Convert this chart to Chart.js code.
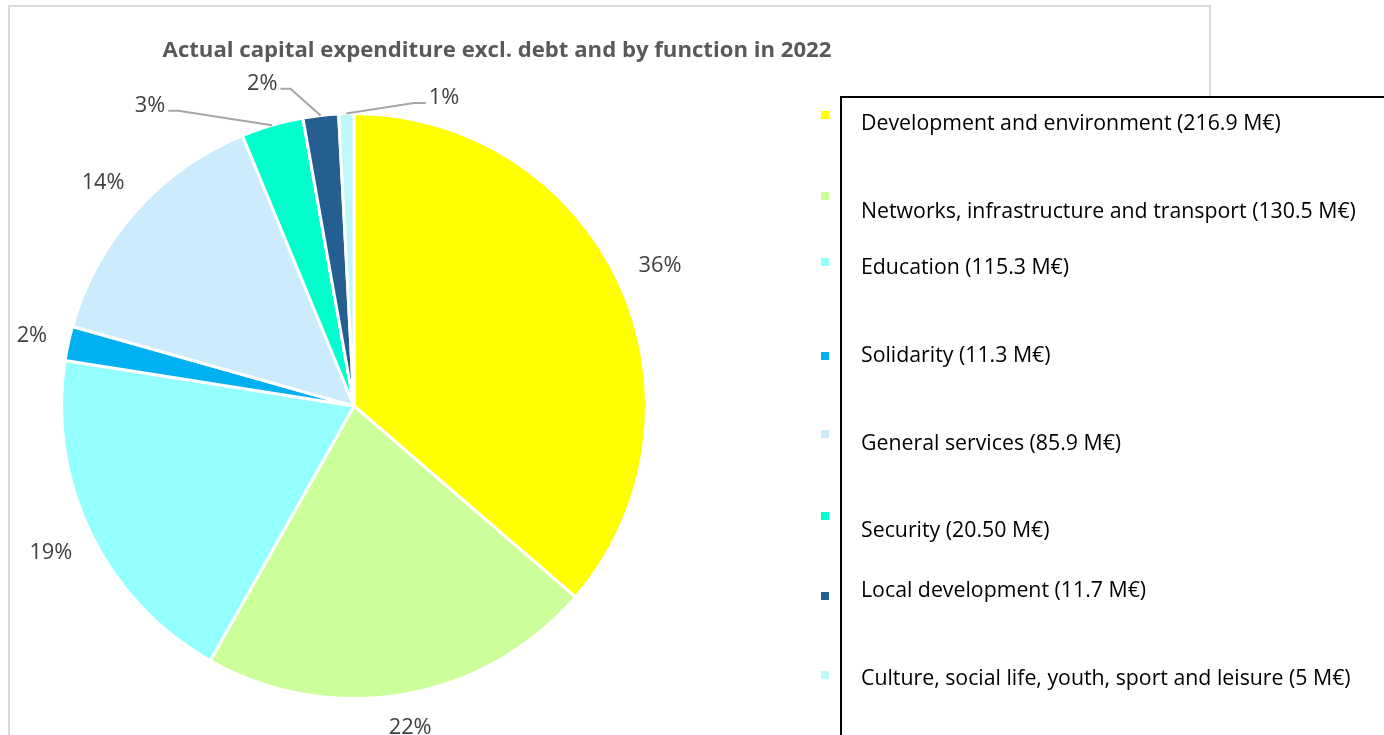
<!DOCTYPE html>
<html>
<head>
<meta charset="utf-8">
<script src="https://cdn.jsdelivr.net/npm/chart.js@4.4.0/dist/chart.umd.min.js"></script>
<style>
html, body { margin: 0; padding: 0; background: #fff; overflow: hidden; }
canvas { display: block; }
</style>
</head>
<body>
<canvas id="capexByFunction" width="1384" height="735"></canvas>
<script>
// data
var functionNames = ['Development and environment', 'Networks, infrastructure and transport', 'Education',
  'Solidarity', 'General services', 'Security', 'Local development', 'Culture, social life, youth, sport and leisure'];
var amountsMeur = [216.9, 130.5, 115.3, 11.3, 85.9, 20.5, 11.7, 5];
var amountTexts = ['216.9', '130.5', '115.3', '11.3', '85.9', '20.50', '11.7', '5'];
var sliceColors = ['#FFFF00', '#CCFF99', '#93FFFF', '#00B0F0', '#CCEBFC', '#00FFCC', '#255E91', '#BFF8FB'];
var chartTitle = 'Actual capital expenditure excl. debt and by function in 2022';

var totalMeur = amountsMeur.reduce(function (a, b) { return a + b; }, 0);

// legend rows (marker y, text y) as laid out in the reference
var legendMarkerY = [115, 196, 262, 356, 434, 516, 596, 675];
var legendTextY = [124, 212, 268, 356, 444, 531, 591, 679];

// small slices at the top get leader lines
var labelPlace = {
  5: { angle: 325.8, dist: 363, side: 'left' },
  6: { angle: 344.1, dist: 335, side: 'left' },
  7: { angle: 16.3, dist: 321, side: 'right' }
};

function fitFont(ctx, text, width, weight, family) {
  ctx.font = weight + ' 20px ' + family;
  var w = ctx.measureText(text).width;
  return weight + ' ' + (20 * width / w).toFixed(2) + 'px ' + family;
}

var decorPlugin = {
  id: 'decor',
  beforeDraw: function (chart) {
    var ctx = chart.ctx;
    ctx.save();
    ctx.fillStyle = '#fff';
    ctx.fillRect(0, 0, chart.width, chart.height);
    ctx.strokeStyle = '#D9D9D9';
    ctx.lineWidth = 2;
    ctx.beginPath();
    ctx.moveTo(9, 740); ctx.lineTo(9, 6); ctx.lineTo(1210, 6); ctx.lineTo(1210, 740);
    ctx.stroke();
    var fam = "'Open Sans', 'Liberation Sans', sans-serif";
    ctx.fillStyle = '#595959';
    ctx.font = fitFont(ctx, chartTitle, 669, 'bold', fam);
    ctx.textAlign = 'center';
    ctx.textBaseline = 'middle';
    ctx.fillText(chartTitle, 497, 51);
    ctx.restore();
  },
  afterDatasetsDraw: function (chart) {
    var ctx = chart.ctx;
    var meta = chart.getDatasetMeta(0);
    var fam = "'Open Sans', 'Liberation Sans', sans-serif";
    ctx.save();
    ctx.font = fitFont(ctx, '36%', 43, 'normal', fam);
    ctx.textBaseline = 'middle';
    meta.data.forEach(function (arc, i) {
      var pct = Math.round(amountsMeur[i] / totalMeur * 100) + '%';
      var mid = (arc.startAngle + arc.endAngle) / 2;
      var R = arc.outerRadius;
      var p = labelPlace[i];
      var lx, ly;
      var tw = ctx.measureText(pct).width;
      if (p) {
        var a = (p.angle - 90) * Math.PI / 180;
        lx = arc.x + p.dist * Math.cos(a);
        ly = arc.y + p.dist * Math.sin(a);
        var ex = p.side === 'left' ? lx + tw / 2 + 3 : lx - tw / 2 - 3;
        var ey = ly + 5;
        var kx = p.side === 'left' ? ex + 10 : ex - 12;
        ctx.strokeStyle = '#A6A6A6';
        ctx.lineWidth = 2;
        ctx.beginPath();
        ctx.moveTo(arc.x + R * Math.cos(mid), arc.y + R * Math.sin(mid));
        ctx.lineTo(kx, ey);
        ctx.lineTo(ex, ey);
        ctx.stroke();
      } else {
        // keep the text box a fixed gap outside the rim
        var c = Math.cos(mid), s = Math.sin(mid);
        var d = R + 20 + Math.abs(c) * tw / 2 + Math.abs(s) * 11;
        lx = arc.x + d * c;
        ly = arc.y + d * s;
      }
      ctx.fillStyle = '#404040';
      ctx.textAlign = 'center';
      ctx.fillText(pct, lx, ly);
    });

    // legend box
    ctx.fillStyle = '#fff';
    ctx.fillRect(841, 97, 600, 700);
    ctx.strokeStyle = '#000';
    ctx.lineWidth = 2;
    ctx.beginPath();
    ctx.moveTo(841, 740); ctx.lineTo(841, 97); ctx.lineTo(1390, 97);
    ctx.stroke();
    var first = functionNames[0] + ' (' + amountTexts[0] + ' M€)';
    ctx.font = fitFont(ctx, first, 420, 'normal', fam);
    ctx.textAlign = 'left';
    functionNames.forEach(function (name, i) {
      ctx.fillStyle = sliceColors[i];
      ctx.fillRect(821, legendMarkerY[i] - 4, 8, 8);
      ctx.fillStyle = '#000';
      ctx.fillText(name + ' (' + amountTexts[i] + ' M€)', 861, legendTextY[i]);
    });
    ctx.restore();
  }
};

var capexCtx = document.getElementById('capexByFunction').getContext('2d');
var capexChart = new Chart(capexCtx, {
  type: 'pie',
  data: {
    labels: functionNames,
    datasets: [{
      data: amountsMeur,
      backgroundColor: sliceColors,
      borderColor: '#fff',
      borderWidth: 3
    }]
  },
  options: {
    responsive: false,
    animation: false,
    devicePixelRatio: 1,
    layout: { padding: { left: 60, right: 736, top: 112, bottom: 35 } },
    plugins: {
      legend: { display: false },
      title: { display: false },
      tooltip: { enabled: false }
    }
  },
  plugins: [decorPlugin]
});
</script>
</body>
</html>
